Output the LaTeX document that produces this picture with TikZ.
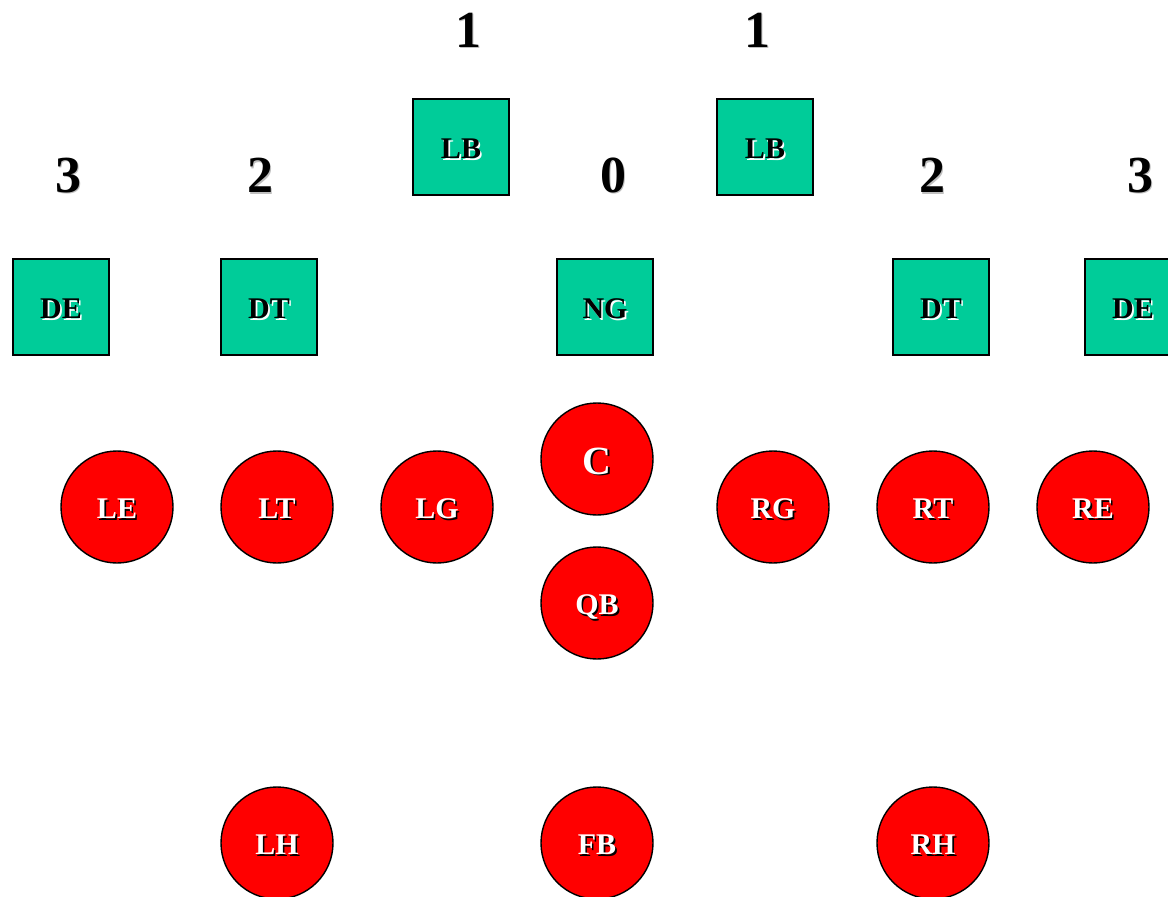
\documentclass[tikz,border=0pt]{standalone}
\usepackage{fontspec}
\setmainfont{Liberation Serif}
\newcommand\shadtxt[3]{\makebox[0pt][l]{\hspace{1.6pt}\raisebox{-1.6pt}{\textcolor{#2}{#1}}}\textcolor{#3}{#1}}
\newcommand\lbltxt[3]{\raisebox{\dimexpr-0.331em-2pt\relax}[0pt][0pt]{\shadtxt{#1}{#2}{#3}}}
\definecolor{teal}{HTML}{00CC99}
\begin{document}
\begin{tikzpicture}[x=1pt,y=-1pt,
  defbox/.style={draw=black,line width=1.6pt,fill=teal,minimum size=96pt,inner sep=0pt,font=\bfseries\fontsize{30}{32}\selectfont},
  offcirc/.style={circle,draw=black,line width=1.4pt,fill=red,minimum size=112pt,inner sep=0pt,font=\bfseries\fontsize{30}{32}\selectfont},
  gapnum/.style={font=\bfseries\fontsize{52}{56}\selectfont,inner sep=0pt}]
\useasboundingbox (0,0) rectangle (1168,897);
% gap numbers
\node[gapnum] (n1a) at (468,31) {\shadtxt{1}{black!25}{black}};
\node[gapnum] (n1b) at (757,31) {\shadtxt{1}{black!25}{black}};
\node[gapnum] (n3a) at (68,176) {\shadtxt{3}{black!25}{black}};
\node[gapnum] (n2a) at (260,176) {\shadtxt{2}{black!25}{black}};
\node[gapnum] (n0) at (613,176) {\shadtxt{0}{black!25}{black}};
\node[gapnum] (n2b) at (932,176) {\shadtxt{2}{black!25}{black}};
\node[gapnum] (n3b) at (1140,176) {\shadtxt{3}{black!25}{black}};
% defense
\node[defbox] (lb1) at (461,147) {\lbltxt{LB}{white}{black}};
\node[defbox] (lb2) at (765,147) {\lbltxt{LB}{white}{black}};
\node[defbox] (de1) at (61,307) {\lbltxt{DE}{white}{black}};
\node[defbox] (dt1) at (269,307) {\lbltxt{DT}{white}{black}};
\node[defbox] (ng) at (605,307) {\lbltxt{NG}{white}{black}};
\node[defbox] (dt2) at (941,307) {\lbltxt{DT}{white}{black}};
\node[defbox] (de2) at (1133,307) {\lbltxt{DE}{white}{black}};
% offense
\node[offcirc] (le) at (117,507) {\lbltxt{LE}{black}{white}};
\node[offcirc] (lt) at (277,507) {\lbltxt{LT}{black}{white}};
\node[offcirc] (lg) at (437,507) {\lbltxt{LG}{black}{white}};
\node[offcirc,font=\bfseries\fontsize{40}{42}\selectfont] (c) at (597,459) {\lbltxt{C}{black}{white}};
\node[offcirc] (rg) at (773,507) {\lbltxt{RG}{black}{white}};
\node[offcirc] (rt) at (933,507) {\lbltxt{RT}{black}{white}};
\node[offcirc] (re) at (1093,507) {\lbltxt{RE}{black}{white}};
\node[offcirc] (qb) at (597,603) {\lbltxt{QB}{black}{white}};
\node[offcirc] (lh) at (277,843) {\lbltxt{LH}{black}{white}};
\node[offcirc] (fb) at (597,843) {\lbltxt{FB}{black}{white}};
\node[offcirc] (rh) at (933,843) {\lbltxt{RH}{black}{white}};
\end{tikzpicture}
\end{document}
